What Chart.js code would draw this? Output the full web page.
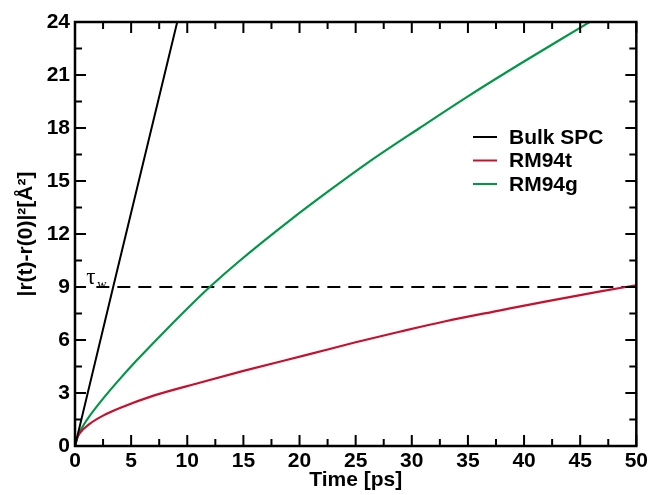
<!DOCTYPE html>
<html>
<head>
<meta charset="utf-8">
<script src="https://cdn.jsdelivr.net/npm/chart.js@4/dist/chart.umd.min.js"></script>
<style>
  body { margin: 0; background: #fff; }
  #wrap { width: 651px; height: 495px; }
</style>
</head>
<body>
<div id="wrap"><canvas id="myChart" width="651" height="495"></canvas></div>
<script>
'use strict';

// values
const bulkTime = [0, 3.4, 9.6];
const bulkMsd = [0, 9.0, 25.3];

const rm94tTime = [0, 0.15, 0.45, 1.3, 2.5, 4.0, 7.0, 11.1, 15.0, 20.9, 25.0, 29.0, 33.0, 37.9, 42.0, 46.8, 50.0];
const rm94tMsd = [0, 0.4, 0.75, 1.25, 1.72, 2.15, 2.85, 3.58, 4.25, 5.2, 5.87, 6.48, 7.06, 7.68, 8.19, 8.75, 9.1];

const rm94gTime = [0, 0.3, 0.74, 1.34, 2.5, 4.0, 5.5, 8.0, 11.1, 12.0, 14.7, 19.2, 22.7, 26.0, 30.7, 34.9, 39.7, 45.2, 46.5];
const rm94gMsd = [0, 0.63, 1.16, 1.73, 2.68, 3.8, 4.85, 6.5, 8.46, 9.0, 10.5, 12.8, 14.48, 16.0, 18.0, 19.75, 21.65, 23.75, 24.25];

const tauTime = [1.9, 50];
const tauMsd = [9, 9];

const xTickValues = [0, 5, 10, 15, 20, 25, 30, 35, 40, 45, 50];
const yTickValues = [0, 3, 6, 9, 12, 15, 18, 21, 24];

const seriesNames = ['Bulk SPC', 'RM94t', 'RM94g'];
const seriesColors = ['#000000', '#c8102e', '#009846'];

function toPoints(xs, ys) {
  let pts = [];
  for (let i = 0; i < xs.length; i++) {
    pts.push({x: xs[i], y: ys[i]});
  }
  return pts;
}

const fontFam = '"Liberation Sans", Arial, Helvetica, sans-serif';

// frame with inward ticks on all four sides, legend and tau label
const framePlugin = {
  id: 'frame',
  afterDatasetsDraw(chart) {
    const c = chart.ctx;
    const a = chart.chartArea;
    const xs = chart.scales.x;
    const ys = chart.scales.y;
    c.save();
    c.strokeStyle = '#000';
    c.lineWidth = 2.5;
    c.strokeRect(a.left, a.top, a.right - a.left, a.bottom - a.top);

    c.lineWidth = 2;
    c.beginPath();
    for (let i = 0; i < xTickValues.length; i++) {
      let px = xs.getPixelForValue(xTickValues[i]);
      c.moveTo(px, a.bottom); c.lineTo(px, a.bottom - 11);
      c.moveTo(px, a.top); c.lineTo(px, a.top + 11);
      if (i < xTickValues.length - 1) {
        let mx = xs.getPixelForValue((xTickValues[i] + xTickValues[i + 1]) / 2);
        c.moveTo(mx, a.bottom); c.lineTo(mx, a.bottom - 7);
        c.moveTo(mx, a.top); c.lineTo(mx, a.top + 7);
      }
    }
    for (let i = 0; i < yTickValues.length; i++) {
      let py = ys.getPixelForValue(yTickValues[i]);
      c.moveTo(a.left, py); c.lineTo(a.left + 11, py);
      c.moveTo(a.right, py); c.lineTo(a.right - 11, py);
      if (i < yTickValues.length - 1) {
        let my = ys.getPixelForValue((yTickValues[i] + yTickValues[i + 1]) / 2);
        c.moveTo(a.left, my); c.lineTo(a.left + 7, my);
        c.moveTo(a.right, my); c.lineTo(a.right - 7, my);
      }
    }
    c.stroke();

    // legend
    c.font = 'bold 21px ' + fontFam;
    c.textBaseline = 'middle';
    c.textAlign = 'left';
    for (let i = 0; i < seriesNames.length; i++) {
      let ly = 137 + i * 23.5;
      c.strokeStyle = seriesColors[i];
      c.lineWidth = 2;
      c.beginPath();
      c.moveTo(473, ly); c.lineTo(497, ly);
      c.stroke();
      c.fillStyle = '#000';
      c.fillText(seriesNames[i], 509, ly + 1);
    }

    // tau_w label
    let tx = xs.getPixelForValue(1.0);
    let ty = ys.getPixelForValue(9);
    c.fillStyle = '#000';
    c.textBaseline = 'alphabetic';
    c.font = '23px "Liberation Serif", "DejaVu Serif", serif';
    c.fillText('\u03c4', tx, ty - 3);
    c.font = '13px "Liberation Serif", "DejaVu Serif", serif';
    c.fillText('w', tx + 11, ty + 1);
    c.restore();
  }
};

const ctx = document.getElementById('myChart');

new Chart(ctx, {
  type: 'line',
  data: {
    datasets: [
      {
        label: seriesNames[0],
        data: toPoints(bulkTime, bulkMsd),
        borderColor: seriesColors[0],
        borderWidth: 2,
      },
      {
        label: seriesNames[1],
        data: toPoints(rm94tTime, rm94tMsd),
        borderColor: seriesColors[1],
        borderWidth: 2.2,
        cubicInterpolationMode: 'monotone',
      },
      {
        label: seriesNames[2],
        data: toPoints(rm94gTime, rm94gMsd),
        borderColor: seriesColors[2],
        borderWidth: 2.2,
        cubicInterpolationMode: 'monotone',
      },
      {
        label: 'tau',
        data: toPoints(tauTime, tauMsd),
        borderColor: '#000',
        borderWidth: 2,
        borderDash: [13, 8],
      }
    ]
  },
  options: {
    responsive: false,
    animation: false,
    devicePixelRatio: 1,
    elements: { point: { radius: 0 }, line: { fill: false } },
    layout: { padding: { left: 0, right: 14, top: 22, bottom: 0 } },
    plugins: {
      legend: { display: false },
      tooltip: { enabled: false },
    },
    scales: {
      x: {
        type: 'linear',
        min: 0,
        max: 50,
        afterFit: (s) => { s.height = 49; },
        afterBuildTicks: (s) => { s.ticks = xTickValues.map(v => ({value: v})); },
        grid: { display: false, drawTicks: false },
        border: { display: false },
        ticks: {
          color: '#000',
          padding: 3,
          maxRotation: 0,
          font: { family: fontFam, size: 21, weight: 'bold' },
        },
        title: {
          display: true,
          text: 'Time [ps]',
          color: '#000',
          padding: { top: 0, bottom: 2 },
          font: { family: fontFam, size: 21, weight: 'bold' },
        }
      },
      y: {
        type: 'linear',
        min: 0,
        max: 24,
        afterFit: (s) => { s.width = 75; },
        afterBuildTicks: (s) => { s.ticks = yTickValues.map(v => ({value: v})); },
        grid: { display: false, drawTicks: false },
        border: { display: false },
        ticks: {
          color: '#000',
          padding: 5,
          font: { family: fontFam, size: 21, weight: 'bold' },
        },
        title: {
          display: true,
          text: '|r(t)-r(0)|\u00b2[\u00c5\u00b2]',
          color: '#000',
          padding: { top: 14, bottom: 0 },
          font: { family: fontFam, size: 21, weight: 'bold' },
        }
      }
    }
  },
  plugins: [framePlugin]
});
</script>
</body>
</html>
